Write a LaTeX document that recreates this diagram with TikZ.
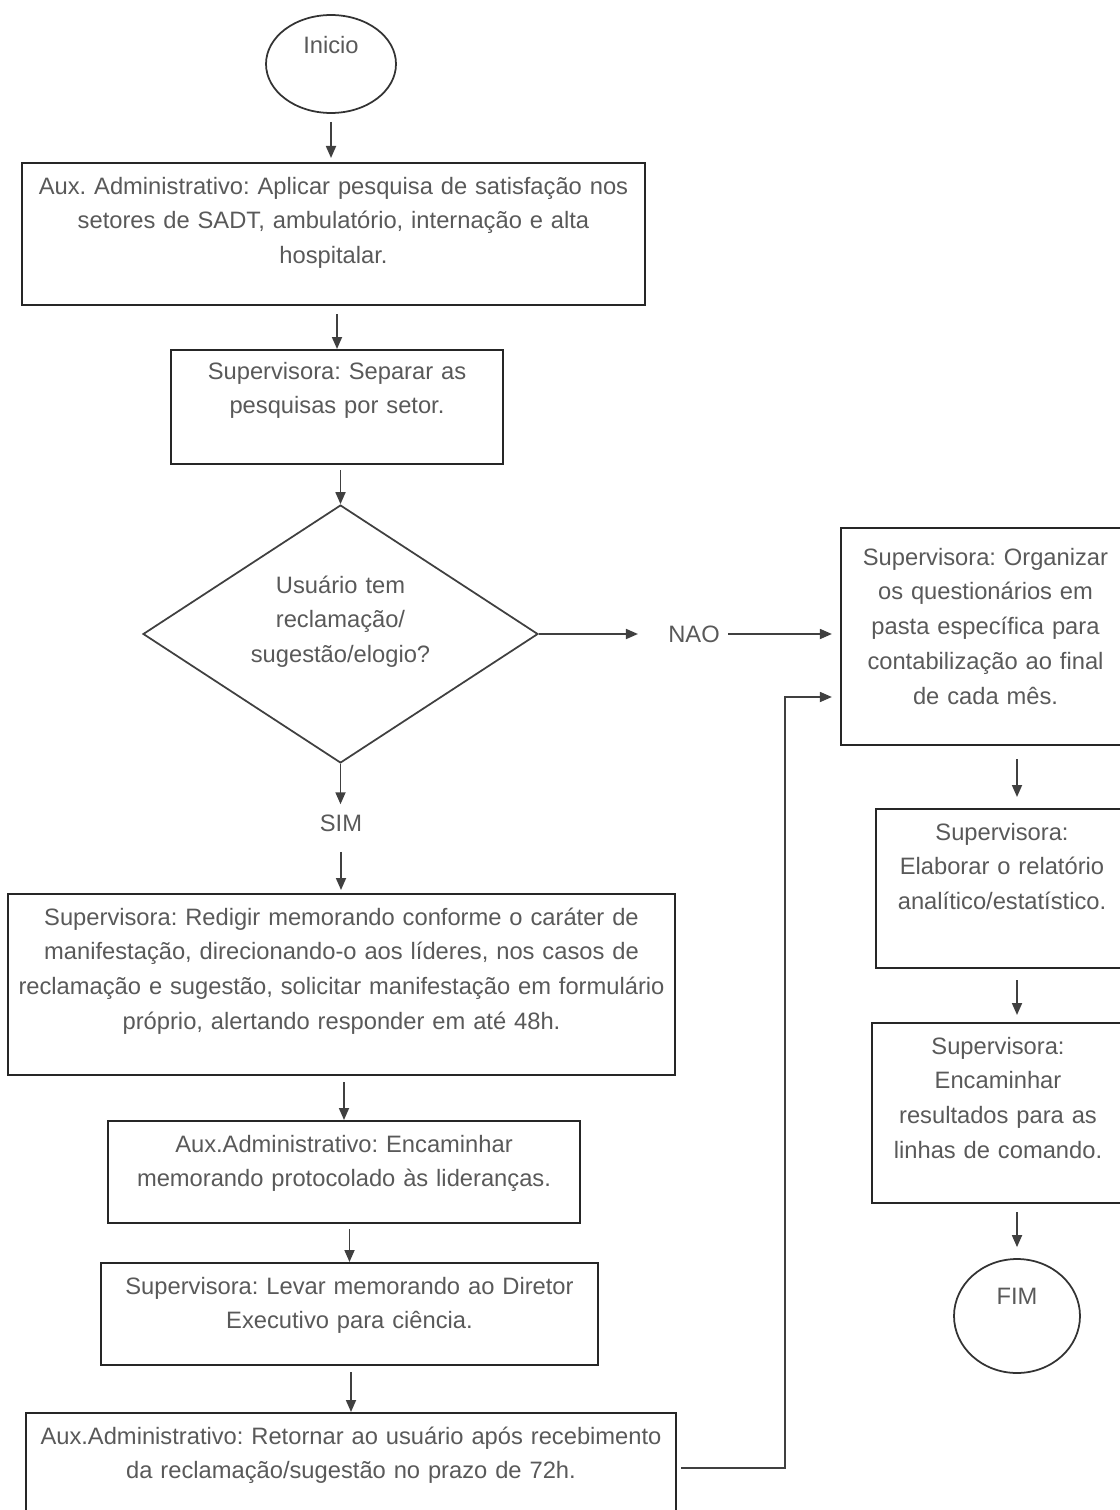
\documentclass[tikz,border=0pt]{standalone}
\usepackage{fontspec}
\setmainfont{Liberation Sans}
\usetikzlibrary{shapes.geometric,arrows.meta}
\frenchspacing

\tikzset{
  stepbox/.style={draw=black!85, line width=1.3pt, text=black!65, align=center,
    anchor=north, inner xsep=1pt, inner ysep=0pt, text height=0.62cm,
    font=\fontsize{13.5}{19.8}\selectfont},
  decision/.style={diamond, draw=black!75, line width=1pt, text=black!65, align=center,
    aspect=1.53, inner sep=0pt, text width=3.8cm, text height=0.4cm, text depth=2.04cm,
    minimum width=7.9cm, minimum height=5.16cm, font=\fontsize{13.5}{19.8}\selectfont},
  terminal/.style={ellipse, draw=black!80, line width=1pt, text=black!65, inner sep=0pt,
    text height=0.35cm, font=\fontsize{13.5}{19.8}\selectfont},
  answer/.style={text=black!65, inner sep=0pt, font=\fontsize{13.5}{19.8}\selectfont},
  flow/.style={-{Triangle[length=0.24cm,width=0.2cm]}, draw=black!75, line width=1pt}
}

\begin{document}
\begin{tikzpicture}[x=0.02cm, y=-0.02cm]
  \useasboundingbox (0,0) rectangle (1119,1510);

  % left column
  \node[terminal, minimum width=2.6cm, minimum height=1.96cm, text depth=0.75cm] (inicio) at (331,64) {Inicio};
  \node[stepbox, text width=12.39cm, text depth=2.22cm] (aplicar) at (333.5,162)
    {Aux. Administrativo: Aplicar pesquisa de satisfação nos\\setores de SADT, ambulatório, internação e alta\\hospitalar.};
  \node[stepbox, text width=6.57cm, text height=0.58cm, text depth=1.70cm] (separar) at (337,349)
    {Supervisora: Separar as\\pesquisas por setor.};
  \node[decision] (decisao) at (340.5,634) {Usuário tem\\reclamação/\\sugestão/elogio?};
  \node[answer] (nao) at (694,634) {NAO};
  \node[answer] (sim) at (341,823) {SIM};
  \node[stepbox, text width=13.27cm, text depth=3.0cm] (redigir) at (341.5,893)
    {Supervisora: Redigir memorando conforme o caráter de\\manifestação, direcionando-o aos líderes, nos casos de\\reclamação e sugestão, solicitar manifestação em formulário\\próprio, alertando responder em até 48h.};
  \node[stepbox, text width=9.37cm, text depth=1.42cm] (encaminhar) at (344,1120)
    {Aux.Administrativo: Encaminhar\\memorando protocolado às lideranças.};
  \node[stepbox, text width=9.87cm, text depth=1.42cm] (levar) at (349.5,1262)
    {Supervisora: Levar memorando ao Diretor\\Executivo para ciência.};
  \node[stepbox, text width=12.93cm, text depth=1.58cm] (retornar) at (351,1412)
    {Aux.Administrativo: Retornar ao usuário após recebimento\\da reclamação/sugestão no prazo de 72h.};

  % right column
  \node[stepbox, text width=5.71cm, text height=0.74cm, text depth=3.60cm] (organizar) at (985.5,527)
    {Supervisora: Organizar\\os questionários em\\pasta específica para\\contabilização ao final\\de cada mês.};
  \node[stepbox, text width=4.97cm, text depth=2.56cm] (elaborar) at (1002,808)
    {Supervisora:\\Elaborar o relatório\\analítico/estatístico.};
  \node[stepbox, text width=4.97cm, text depth=2.98cm] (resultados) at (998,1022)
    {Supervisora:\\Encaminhar\\resultados para as\\linhas de comando.};
  \node[terminal, minimum width=2.52cm, minimum height=2.28cm, text depth=0.83cm] (fim) at (1017,1316) {FIM};
  \coordinate (retorno) at (785,697);

  % connectors
  \draw[flow, shorten <=0.16cm, shorten >=0.08cm] (inicio.south) -- (inicio.south |- aplicar.north);
  \draw[flow, shorten <=0.16cm] (separar.north |- aplicar.south) -- (separar.north);
  \draw[flow, shorten <=0.1cm] (decisao.north |- separar.south) -- (decisao.north);
  \draw[flow, shorten >=0.6cm] (decisao.east) -- (nao.west);
  \draw[flow, shorten <=0.16cm, shorten >=0.16cm] (nao.east) -- (nao.east -| organizar.west);
  \draw[flow, shorten >=0.2cm] (decisao.south) -- (decisao.south |- sim.north);
  \draw[flow, shorten <=0.4cm, shorten >=0.06cm] (sim.south) -- (sim.south |- redigir.north);
  \draw[flow, shorten <=0.12cm] (encaminhar.north |- redigir.south) -- (encaminhar.north);
  \draw[flow, shorten <=0.1cm] (levar.north |- encaminhar.south) -- (levar.north);
  \draw[flow, shorten <=0.12cm] (retornar.north |- levar.south) -- (retornar.north);
  \draw[flow, shorten <=0.08cm, shorten >=0.16cm] (retornar.east) -| (retorno) -- (retorno -| organizar.west);
  \draw[flow, shorten <=0.26cm, shorten >=0.22cm] (organizar.south -| fim.north) -- (elaborar.north -| fim.north);
  \draw[flow, shorten <=0.22cm, shorten >=0.14cm] (elaborar.south -| fim.north) -- (resultados.north -| fim.north);
  \draw[flow, shorten <=0.16cm, shorten >=0.22cm] (resultados.south -| fim.north) -- (fim.north);
\end{tikzpicture}
\end{document}
